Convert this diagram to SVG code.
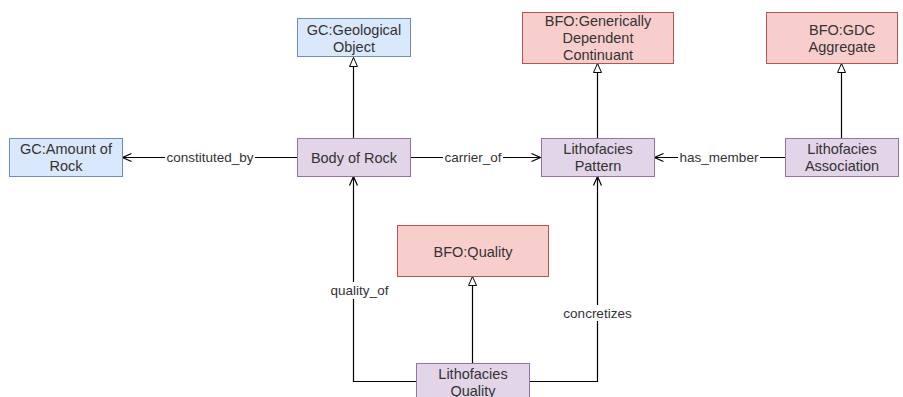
<svg xmlns="http://www.w3.org/2000/svg" width="903" height="397" viewBox="0 0 903 397">
  <defs>
    <marker id="hollow" markerWidth="12" markerHeight="12" refX="10" refY="5" orient="auto" markerUnits="userSpaceOnUse" viewBox="0 0 12 10">
      <path d="M1,1 L10,5 L1,9 Z" fill="#ffffff" stroke="#000" stroke-width="1"/>
    </marker>
    <marker id="open" markerWidth="12" markerHeight="12" refX="10" refY="5" orient="auto" markerUnits="userSpaceOnUse" viewBox="0 0 12 10">
      <path d="M1,1 L10,5 L1,9" fill="none" stroke="#000" stroke-width="1.2"/>
    </marker>
  </defs>
  <style>
    text { font-family: "Liberation Sans", Arial, sans-serif; font-size: 14.5px; fill: #333; text-anchor: middle; }
    text.lbl { font-size: 13.5px; }
    .blue { fill: #dae8fc; stroke: #6c8ebf; stroke-width: 1; }
    .red { fill: #f8cecc; stroke: #b85450; stroke-width: 1; }
    .purple { fill: #e1d5e7; stroke: #9673a6; stroke-width: 1; }
    .edge { fill: none; stroke: #000; stroke-width: 1.2; }
    .isa { marker-end: url(#hollow); }
    .rel { marker-end: url(#open); }
    .lbg { fill: #ffffff; }
  </style>
  <rect width="903" height="397" fill="#ffffff"/>

  <g id="connectors">
    <path class="edge isa" d="M353.5,138 V57.5"/>
    <path class="edge isa" d="M597.5,138 V63.5"/>
    <path class="edge isa" d="M841.5,138 V63.5"/>
    <path class="edge isa" d="M472.5,363 V276.5"/>
    <path class="edge rel" d="M297,157.5 H122.5"/>
    <path class="edge rel" d="M410,157.5 H540.5"/>
    <path class="edge rel" d="M785,157.5 H654.5"/>
    <path class="edge rel" d="M416,381.5 H353.5 V176.5"/>
    <path class="edge rel" d="M529,381.5 H597.5 V176.5"/>
    <rect class="lbg" x="165" y="150" width="90" height="15"/>
    <text class="lbl" x="210" y="162">constituted_by</text>
    <rect class="lbg" x="443" y="150" width="60" height="15"/>
    <text class="lbl" x="473" y="162">carrier_of</text>
    <rect class="lbg" x="678" y="150" width="82" height="15"/>
    <text class="lbl" x="719" y="162">has_member</text>
    <rect class="lbg" x="329" y="282" width="61" height="17"/>
    <text class="lbl" x="359.5" y="294.5">quality_of</text>
    <rect class="lbg" x="562" y="305" width="71" height="16"/>
    <text class="lbl" x="597.5" y="317.5">concretizes</text>
  </g>

  <g id="geological-object">
    <rect class="blue" x="297.5" y="18.5" width="113" height="38"/>
    <text x="354" y="35">GC:Geological</text>
    <text x="354" y="52">Object</text>
  </g>
  <g id="amount-of-rock">
    <rect class="blue" x="9.5" y="138.5" width="113" height="38"/>
    <text x="66" y="153.5">GC:Amount of</text>
    <text x="66" y="170.5">Rock</text>
  </g>
  <g id="body-of-rock">
    <rect class="purple" x="297.5" y="138.5" width="113" height="38"/>
    <text x="354" y="162.5">Body of Rock</text>
  </g>
  <g id="generically-dependent-continuant">
    <rect class="red" x="522.5" y="12.5" width="151" height="51"/>
    <text x="598" y="26">BFO:Generically</text>
    <text x="598" y="43">Dependent</text>
    <text x="598" y="60">Continuant</text>
  </g>
  <g id="gdc-aggregate">
    <rect class="red" x="766.5" y="12.5" width="131" height="51"/>
    <text x="842" y="35">BFO:GDC</text>
    <text x="842" y="52">Aggregate</text>
  </g>
  <g id="lithofacies-pattern">
    <rect class="purple" x="541.5" y="138.5" width="113" height="38"/>
    <text x="598" y="153.5">Lithofacies</text>
    <text x="598" y="170.5">Pattern</text>
  </g>
  <g id="lithofacies-association">
    <rect class="purple" x="785.5" y="138.5" width="113" height="38"/>
    <text x="842" y="153.5">Lithofacies</text>
    <text x="842" y="170.5">Association</text>
  </g>
  <g id="quality">
    <rect class="red" x="397.5" y="225.5" width="151" height="51"/>
    <text x="473" y="257">BFO:Quality</text>
  </g>
  <g id="lithofacies-quality">
    <rect class="purple" x="416.5" y="363.5" width="113" height="38"/>
    <text x="473" y="378.5">Lithofacies</text>
    <text x="473" y="395.5">Quality</text>
  </g>
</svg>
